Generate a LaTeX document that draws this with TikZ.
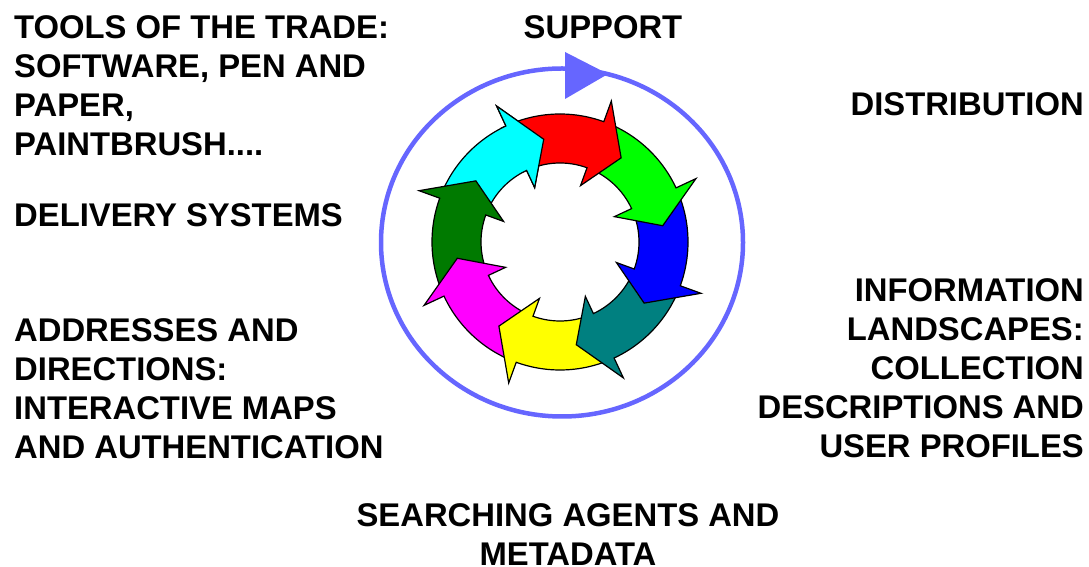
\documentclass[tikz,border=0pt]{standalone}
\usepackage{fontspec}
\setmainfont{Liberation Sans}
\definecolor{ringblue}{RGB}{102,102,255}
\definecolor{darkgr}{RGB}{0,122,0}
\definecolor{cyn}{RGB}{0,255,255}
\definecolor{mgt}{RGB}{255,0,255}
\definecolor{ylw}{RGB}{255,255,0}
\definecolor{grn}{RGB}{0,255,0}
\definecolor{tl}{RGB}{0,128,128}
\begin{document}
\begin{tikzpicture}[x=1pt,y=1pt,
    lbl/.style={font=\bfseries\fontsize{32.8}{39}\selectfont,inner sep=0pt},
    segarrow/.style={draw=black,line width=1.2pt,line join=miter}]
\useasboundingbox (0,0) rectangle (1089,567);
% labels round the cycle
\node[lbl,anchor=north west,align=left] (tools) at (14,552) {TOOLS OF THE TRADE:\\SOFTWARE, PEN AND\\PAPER,\\PAINTBRUSH....};
\node[lbl,anchor=north] (support) at (603,552) {SUPPORT};
\node[lbl,anchor=north east] (distr) at (1084,475) {DISTRIBUTION};
\node[lbl,anchor=north west] (deliv) at (14,364) {DELIVERY SYSTEMS};
\node[lbl,anchor=north west,align=left] (addr) at (14,249) {ADDRESSES AND\\DIRECTIONS:\\INTERACTIVE MAPS\\AND AUTHENTICATION};
\node[lbl,anchor=north east,align=right] (info) at (1084,289) {INFORMATION\\LANDSCAPES:\\COLLECTION\\DESCRIPTIONS AND\\USER PROFILES};
\node[lbl,anchor=north,align=center] (search) at (568,64) {SEARCHING AGENTS AND\\METADATA};
% outer ring with its head
\draw[ringblue,line width=4.5pt](562,324.5)ellipse[x radius=181,y radius=174];
\fill[ringblue](565,515)--(608,493)--(565,468)--cycle;
% eight curved arrows
\begin{scope}[shift={(560,325)}]
\foreach \a/\col in {-245/cyn,-200/darkgr,-155/mgt,-110/ylw,-65/tl,-20/blue,25/grn,70/red}
    \filldraw[segarrow,fill=\col]({\a+45}:128)arc[start angle=\a+45,end angle=\a,radius=128]
        --(\a:150)--({\a-16}:104)--(\a:60)--(\a:79)
        arc[start angle=\a,end angle=\a+45,radius=79]--cycle;
% cyan head over the red tail
\fill[cyn](-242:128)arc[start angle=-242,end angle=-245,radius=128]--(-245:150)--(-261:104)
    --(-245:60)--(-245:79)arc[start angle=-245,end angle=-242,radius=79]--cycle;
\draw[segarrow](-242:128)arc[start angle=-242,end angle=-245,radius=128]--(-245:150)--(-261:104)
    --(-245:60)--(-245:79)arc[start angle=-245,end angle=-242,radius=79];
\end{scope}
\end{tikzpicture}
\end{document}
